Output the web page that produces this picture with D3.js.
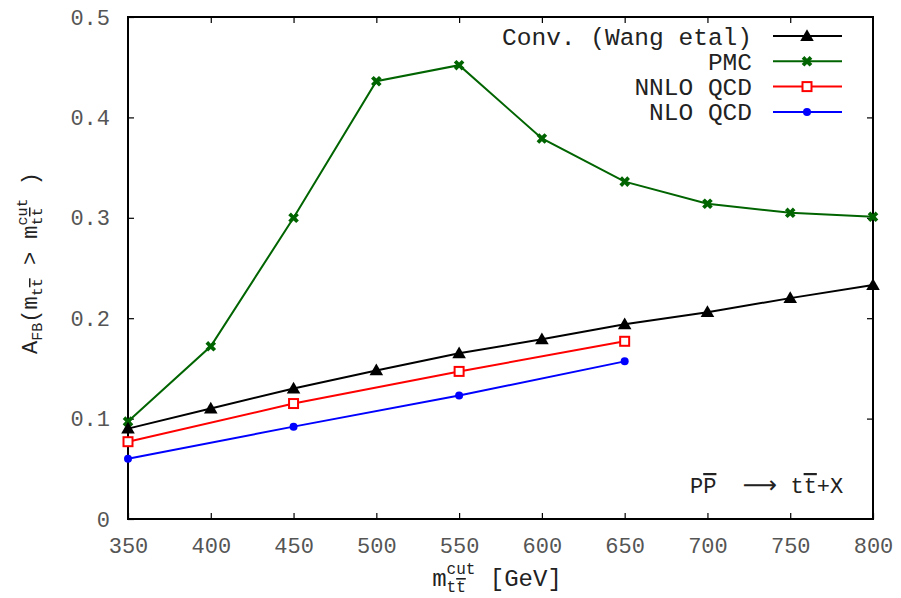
<!DOCTYPE html>
<html>
<head>
<meta charset="utf-8">
<script src="https://cdn.jsdelivr.net/npm/d3@7"></script>
<style>
  body { margin: 0; background: #fff; }
  text { font-family: "Liberation Mono", "DejaVu Sans Mono", monospace; white-space: pre; }
</style>
</head>
<body>
<svg id="chart" width="901" height="598"></svg>
<script>
// Forward-backward asymmetry vs. invariant-mass cut
const massCut = [350, 400, 450, 500, 550, 600, 650, 700, 750, 800];
const convValues = [0.090, 0.110, 0.130, 0.148, 0.165, 0.179, 0.194, 0.206, 0.220, 0.233];
const pmcValues  = [0.097, 0.172, 0.300, 0.436, 0.452, 0.379, 0.336, 0.314, 0.305, 0.301];
const qcdMass    = [350, 450, 550, 650];
const nnloValues = [0.077, 0.115, 0.147, 0.177];
const nloValues  = [0.060, 0.092, 0.123, 0.157];

const xTickValues = [350, 400, 450, 500, 550, 600, 650, 700, 750, 800];
const yTickValues = [0, 0.1, 0.2, 0.3, 0.4, 0.5];
const yTickLabels = ["0", "0.1", "0.2", "0.3", "0.4", "0.5"];
const seriesNames = ["Conv. (Wang etal)", "PMC", "NNLO QCD", "NLO QCD"];
const seriesColors = ["#000000", "#006400", "#ff0000", "#0000ff"];

const svg = d3.select("#chart");
const plot = { left: 128, right: 873, top: 17, bottom: 519 };

const x = d3.scaleLinear().domain([350, 800]).range([plot.left, plot.right]);
const y = d3.scaleLinear().domain([0, 0.5]).range([plot.bottom, plot.top]);

// axes with inward ticks, mirrored on top and right
const tickLen = 6;
const axisStyle = g => {
  g.selectAll(".domain").remove();
  g.selectAll(".tick line").attr("stroke", "#000").attr("stroke-width", 1.2);
};
svg.append("g").attr("transform", `translate(0,${plot.bottom})`)
  .call(d3.axisBottom(x).tickValues(xTickValues).tickSize(-tickLen).tickPadding(14).tickFormat(d3.format("d")))
  .call(axisStyle)
  .call(g => g.selectAll(".tick text").attr("font-size", 22).attr("fill", "#555")
    .attr("dy", "0.9em"));
svg.append("g").attr("transform", `translate(0,${plot.top})`)
  .call(d3.axisTop(x).tickValues(xTickValues.slice(1, -1)).tickSize(-tickLen).tickFormat(""))
  .call(axisStyle);
svg.append("g").attr("transform", `translate(${plot.left},0)`)
  .call(d3.axisLeft(y).tickValues(yTickValues).tickSize(-tickLen).tickPadding(18)
    .tickFormat((d, i) => yTickLabels[i]))
  .call(axisStyle)
  .call(g => g.selectAll(".tick text").attr("font-size", 22).attr("fill", "#555"));
svg.append("g").attr("transform", `translate(${plot.right},0)`)
  .call(d3.axisRight(y).tickValues(yTickValues.slice(1, -1)).tickSize(-tickLen).tickFormat(""))
  .call(axisStyle);

// frame
svg.append("rect")
  .attr("x", plot.left).attr("y", plot.top)
  .attr("width", plot.right - plot.left).attr("height", plot.bottom - plot.top)
  .attr("fill", "none").attr("stroke", "#000").attr("stroke-width", 2);

// markers
const markers = [
  (g, c) => g.append("path").attr("d", d3.symbol(d3.symbolTriangle, 80)()).attr("fill", c)
      .attr("transform", "translate(0,1)"),
  (g, c) => g.append("path").attr("d", d3.symbol(d3.symbolCross, 70)()).attr("fill", c)
      .attr("transform", "rotate(45)"),
  (g, c) => g.append("rect").attr("x", -4.5).attr("y", -4.5).attr("width", 9).attr("height", 9)
      .attr("fill", "#fff").attr("stroke", c).attr("stroke-width", 2),
  (g, c) => g.append("circle").attr("r", 4).attr("fill", c)
];

const series = [
  { xs: massCut, ys: convValues },
  { xs: massCut, ys: pmcValues },
  { xs: qcdMass, ys: nnloValues },
  { xs: qcdMass, ys: nloValues }
];

const line = d3.line().x(d => x(d[0])).y(d => y(d[1]));
// draw back to front so Conv. and PMC sit on top
[3, 2, 1, 0].forEach(i => {
  const s = series[i];
  const pts = s.xs.map((m, k) => [m, s.ys[k]]);
  const g = svg.append("g");
  g.append("path").attr("d", line(pts)).attr("fill", "none")
    .attr("stroke", seriesColors[i]).attr("stroke-width", 2);
  pts.forEach(p => {
    const mg = g.append("g").attr("transform", `translate(${x(p[0])},${y(p[1])})`);
    markers[i](mg, seriesColors[i]);
  });
});

// legend
const legend = svg.append("g");
seriesNames.forEach((name, i) => {
  const ly = 36 + i * 25.3;
  legend.append("text").attr("x", 752).attr("y", ly).attr("dy", "0.35em")
    .attr("text-anchor", "end").attr("font-size", 24.5).attr("fill", "#222").text(name);
  legend.append("line").attr("x1", 773).attr("x2", 842).attr("y1", ly).attr("y2", ly)
    .attr("stroke", seriesColors[i]).attr("stroke-width", 2);
  const mg = legend.append("g").attr("transform", `translate(807,${ly})`);
  markers[i](mg, seriesColors[i]);
});

// mixed-size text layout: pieces laid out left to right, "stack" pieces overprint
function richText(parent, pieces, anchor) {
  const g = parent.append("g");
  let cx = 0;
  const put = (s) => {
    const t = g.append("text").attr("x", cx).attr("y", s.dy || 0)
      .attr("font-size", s.size).attr("fill", "#222");
    addRuns(t, s.t);
    return t.node().getComputedTextLength();
  };
  pieces.forEach(p => {
    if (p.stack) cx += d3.max(p.stack.map(put));
    else cx += put(p);
  });
  if (anchor === "middle") g.attr("transform", `translate(${-cx / 2},0)`);
  return g;
}
// segments wrapped in {} get an overline
function addRuns(t, str) {
  str.split(/(\{[^}]*\})/).filter(s => s.length).forEach(s => {
    if (s.startsWith("{")) t.append("tspan").attr("text-decoration", "overline").text(s.slice(1, -1));
    else t.append("tspan").text(s);
  });
}

// y-axis label
const yl = svg.append("g").attr("transform", "translate(37,263) rotate(-90)");
richText(yl, [
  { t: "A", size: 22 },
  { t: "FB", size: 15, dy: 5 },
  { t: "(m", size: 22 },
  { t: "t{t}", size: 15, dy: 5 },
  { t: " > m", size: 22 },
  { stack: [{ t: "t{t}", size: 15, dy: 5 }, { t: "cut", size: 15, dy: -10 }] },
  { t: " )", size: 22 }
], "middle");

// x-axis label
const xl = svg.append("g").attr("transform", "translate(497,586)");
richText(xl, [
  { t: "m", size: 24 },
  { stack: [{ t: "t{t}", size: 16, dy: 6 }, { t: "cut", size: 16, dy: -12 }] },
  { t: " [GeV]", size: 24 }
], "middle");

// process annotation
const ann = svg.append("text").attr("x", 690).attr("y", 493)
  .attr("font-size", 22).attr("fill", "#222");
ann.append("tspan").text("P");
ann.append("tspan").attr("text-decoration", "overline").text("P");
ann.append("tspan").text("  ");
ann.append("tspan").attr("font-family", "DejaVu Sans").attr("font-size", 24).text("\u27F6");
ann.append("tspan").text(" t");
ann.append("tspan").attr("text-decoration", "overline").text("t");
ann.append("tspan").text("+X");
</script>
</body>
</html>
